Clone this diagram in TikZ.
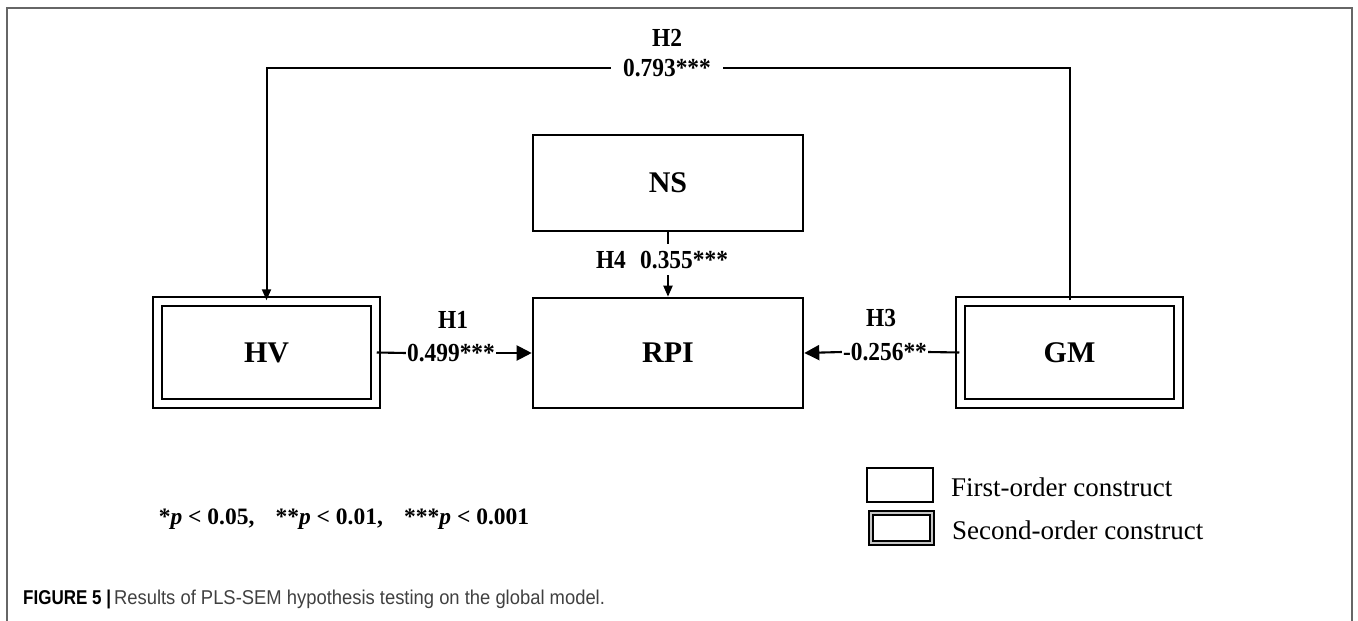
\documentclass[tikz,border=0pt]{standalone}
\usepackage{fontspec}
\usepackage{graphicx}
\setmainfont{Liberation Serif}
\newfontfamily\condserif[FakeStretch=0.9]{Liberation Serif}
\newfontfamily\capfont{Liberation Sans}
\usetikzlibrary{arrows.meta}
\definecolor{framegray}{HTML}{666666}
\definecolor{captext}{HTML}{404040}
\begin{document}
\begin{tikzpicture}[x=1pt,y=-1pt,
  sbox/.style={draw, line width=2.6pt, inner sep=0pt, font=\bfseries\fontsize{30}{30}\selectfont},
  dbox/.style={draw, line width=2.5pt, double=white, double distance=6.5pt, inner sep=0pt,
     minimum width=218pt, minimum height=102pt, font=\bfseries\fontsize{30}{30}\selectfont},
  lab/.style={inner sep=1pt, font=\condserif\bfseries\fontsize{26}{26}\selectfont},
  conn/.style={line width=2.1pt},
  bigarr/.style={line width=2.1pt, -{Triangle[length=15pt,width=15pt]}},
  smallarr/.style={line width=2pt, -{Triangle[length=11pt,width=9pt]}},
  legtext/.style={anchor=west, inner sep=0pt, font=\fontsize{27}{27}\selectfont}
]
\useasboundingbox (0,0) rectangle (1358,621);
% outer frame
\draw[framegray, line width=1.4pt] (7,625) -- (7,8) -- (1352,8) -- (1352,625);

% constructs
\node[sbox, minimum width=270pt, minimum height=96pt] (NS) at (668,183) {NS};
\node[sbox, minimum width=270pt, minimum height=110pt] (RPI) at (668,353) {RPI};
\node[dbox] (HV) at (266.5,352.5) {HV};
\node[dbox] (GM) at (1069.5,352.5) {GM};

% H2
\coordinate (h2r) at (1069.5,68);
\coordinate (h2l) at (266.5,68);
\draw[smallarr] (GM.north) -- (h2r) -- (h2l) -- (HV.north);
\node[lab, fill=white, inner xsep=12pt] (v2) at (667,68) {0.793***};
\node[lab] (h2) at (667,38) {H2};

% H4
\node[lab] (h4) at (662,260) {H4\hspace{0.55em}0.355***};
\coordinate (h4a) at (668,244);
\coordinate (h4b) at (668,275);
\draw[conn] (NS.south) -- (h4a);
\draw[smallarr] (h4b) -- (RPI.north);

% H1
\node[lab] (v1) at (451,353) {0.499***};
\node[lab] (h1) at (453,320) {H1};
\draw[conn] (HV.east) -- (v1.west);
\draw[bigarr] (v1.east) -- (RPI.west);

% H3
\node[lab] (v3) at (885,352) {-0.256**};
\node[lab] (h3) at (881,318) {H3};
\draw[conn] (GM.west) -- (v3.east);
\draw[bigarr] (v3.west) -- (RPI.east);

% significance note
\node[inner sep=0pt, font=\bfseries\fontsize{23.5}{23.5}\selectfont] (sig) at (344,519)
  {*\textit{p} < 0.05,\hspace{0.9em}**\textit{p} < 0.01,\hspace{0.9em}***\textit{p} < 0.001};

% legend
\node[draw, line width=1.8pt, minimum width=66pt, minimum height=34pt, inner sep=0pt] (L1) at (900,485) {};
\node[legtext] (L1t) at (951,487) {First-order construct};
\node[draw, line width=1.8pt, double=gray!45, double distance=2.5pt, minimum width=61pt, minimum height=30pt, inner sep=0pt] (L2) at (901.5,528) {};
\node[legtext] (L2t) at (952,530) {Second-order construct};

% caption
\node[anchor=west, inner sep=0pt, font=\capfont\fontsize{20}{20}\selectfont] (cap) at (23,599)
  {\scalebox{0.85}[1]{\textbf{FIGURE 5 |}}\hspace{3pt}\textcolor{captext}{\scalebox{0.92}[1]{Results of PLS-SEM hypothesis testing on the global model.}}};
\end{tikzpicture}
\end{document}
